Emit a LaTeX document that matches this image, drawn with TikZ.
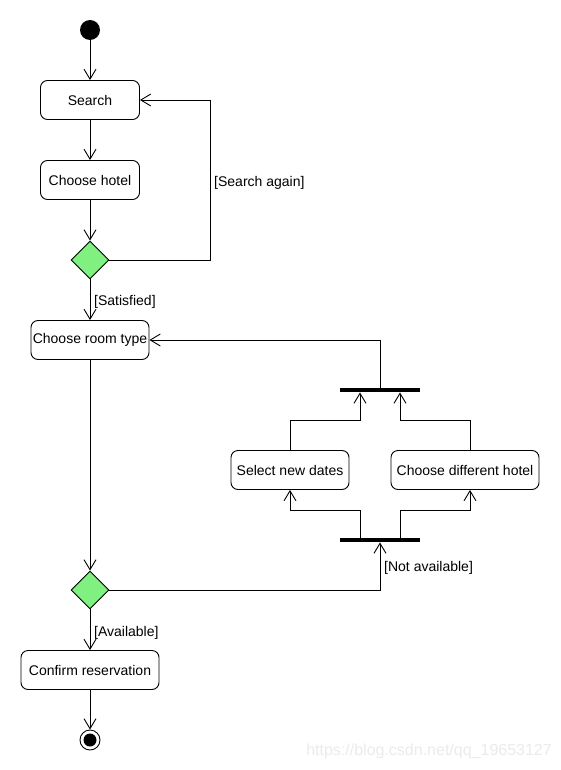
\documentclass[tikz,border=0pt]{standalone}
\usepackage{fontspec}
\setmainfont{Liberation Sans}
\usetikzlibrary{arrows.meta,shapes.geometric}
\definecolor{dgreen}{RGB}{128,240,128}
\begin{document}
\begin{tikzpicture}[x=1pt,y=-1pt,
  act/.style={draw,rounded corners=7pt,minimum height=39pt,inner sep=0pt,font=\fontsize{14}{16}\selectfont,line width=0.9pt},
  dec/.style={draw,diamond,fill=dgreen,minimum width=38pt,minimum height=38pt,inner sep=0pt,line width=0.9pt},
  bar/.style={fill=black,minimum width=80pt,minimum height=4.5pt,inner sep=0pt},
  flow/.style={draw,line width=0.9pt,-{Straight Barb[length=10pt,width=12pt,line width=0.9pt]}},
  guard/.style={font=\fontsize{14}{16}\selectfont,inner sep=0pt,anchor=west}]
\useasboundingbox[fill=white] (0,0) rectangle (560,770);
\node[circle,fill=black,minimum size=20pt,inner sep=0pt] (start) at (90,30) {};
\node[act,minimum width=99pt] (search) at (90,100) {Search};
\node[act,minimum width=99pt] (hotel) at (90,180) {Choose hotel};
\node[dec] (d1) at (90,260) {};
\node[act,minimum width=118pt] (room) at (90,340) {Choose room type};
\node[bar] (join) at (380,390) {};
\node[act,minimum width=118pt] (dates) at (290,470) {Select new dates};
\node[act,minimum width=148pt] (diff) at (465,470) {Choose different hotel};
\node[bar] (fork) at (380,540) {};
\node[dec] (d2) at (90,590) {};
\node[act,minimum width=138pt] (confirm) at (90,670) {Confirm reservation};
\node[circle,draw,line width=0.9pt,minimum size=20pt,inner sep=0pt] (end) at (90,740) {};
\node[circle,fill=black,minimum size=13pt,inner sep=0pt] (endin) at (90,740) {};

\coordinate (c1) at (210,260);
\coordinate (c2) at (210,100);
\coordinate (c3) at (380,340);
\coordinate (c4) at (380,590);

\path[flow] (start) -- (search);
\path[flow] (search) -- (hotel);
\path[flow] (hotel) -- (d1);
\path[flow] (d1.east) -- (c1) -- (c2) -- (search.east);
\path[flow] (d1) -- (room);
\path[flow] (join.center) -- (c3) -- (room.east);
\path[flow] (room) -- (d2);
\path[flow] (d2.east) -- (c4) -- (fork.south);
\path[flow] (fork.north -| 360,0) |- (290,510) -- (dates.south);
\path[flow] (fork.north -| 400,0) |- (470,510) -- (diff.south -| 470,0);
\path[flow] (dates.north) |- (360,420) -- (join.south -| 360,0);
\path[flow] (diff.north -| 470,0) |- (400,420) -- (join.south -| 400,0);
\path[flow] (d2) -- (confirm);
\path[flow] (confirm) -- (end);

\node[guard] (g1) at (214,183) {[Search again]};
\node[guard] (g2) at (94,302) {[Satisfied]};
\node[guard] (g3) at (384,568) {[Not available]};
\node[guard] (g4) at (94,633) {[Available]};
\node[font=\fontsize{16}{18}\selectfont,text=black!8,anchor=east,inner sep=0pt] (wm) at (552,751) {https://blog.csdn.net/qq\_19653127};
\end{tikzpicture}
\end{document}
